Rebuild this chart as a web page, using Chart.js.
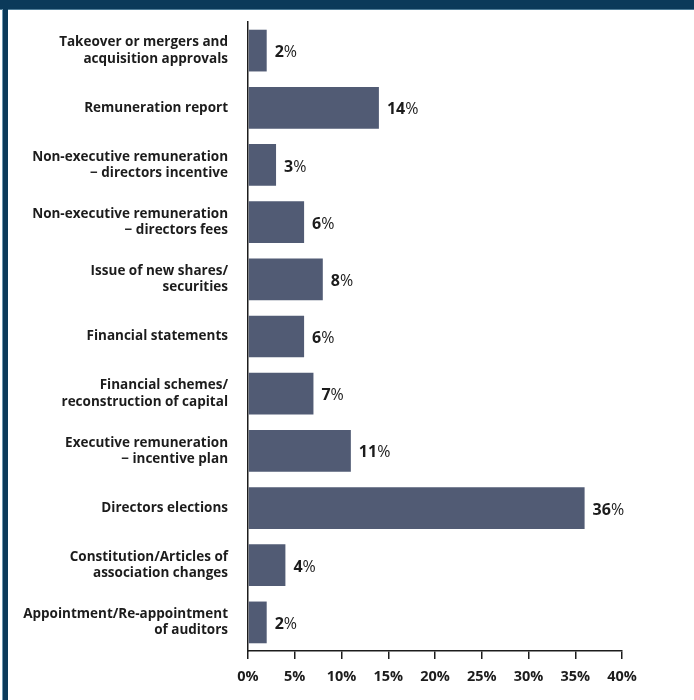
<!DOCTYPE html>
<html>
<head>
<meta charset="utf-8">
<script src="https://cdn.jsdelivr.net/npm/chart.js@4"></script>
<style>
  html, body { margin: 0; padding: 0; background: #fff; }
  #wrap { position: relative; width: 694px; height: 700px; overflow: hidden; }
  #topbar { position: absolute; left: 0; top: 0; width: 694px; height: 9px; background: #0b3a5a; border-bottom: 1px solid #4f7d98; }
  #sidebar { position: absolute; left: 2px; top: 9px; width: 5px; height: 691px; background: #0b3a5a; border-left: 1px solid #6f98b0; }
  #chart-box { position: absolute; left: 0; top: 0; width: 694px; height: 700px; }
</style>
</head>
<body>
<div id="wrap">
  <div id="chart-box"><canvas id="resolutions"></canvas></div>
  <div id="topbar"></div>
  <div id="sidebar"></div>
</div>
<script>
const categories = [
  ["Takeover or mergers and", "acquisition approvals"],
  "Remuneration report",
  ["Non-executive remuneration", "\u2212 directors incentive"],
  ["Non-executive remuneration", "\u2212 directors fees"],
  ["Issue of new shares/", "securities"],
  "Financial statements",
  ["Financial schemes/", "reconstruction of capital"],
  ["Executive remuneration", "\u2212 incentive plan"],
  "Directors elections",
  ["Constitution/Articles of", "association changes"],
  ["Appointment/Re-appointment", "of auditors"]
];
const shares = [2, 14, 3, 6, 8, 6, 7, 11, 36, 4, 2];
const tickValues = [0, 5, 10, 15, 20, 25, 30, 35, 40];

const FONT = "'Open Sans', 'DejaVu Sans', sans-serif";
const INK = "#1c1c1c";
const BAR = "#515b74";

// value labels: bold number followed by a lighter percent sign
const valueLabels = {
  id: "valueLabels",
  afterDatasetsDraw(chart){
    const ctx = chart.ctx;
    const meta = chart.getDatasetMeta(0);
    ctx.save();
    ctx.textBaseline = "middle";
    ctx.fillStyle = INK;
    meta.data.forEach((bar, i) => {
      const num = String(shares[i]);
      let x = bar.x + 8;
      ctx.font = "bold 16px " + FONT;
      ctx.fillText(num, x, bar.y + 2);
      x += ctx.measureText(num).width;
      ctx.font = "16px " + FONT;
      ctx.fillText("%", x, bar.y + 2);
    });
    ctx.restore();
  }
};

new Chart(document.getElementById("resolutions"), {
  type: "bar",
  data: {
    labels: categories,
    datasets: [{
      data: shares,
      backgroundColor: BAR,
      borderWidth: 0,
      barPercentage: 0.73,
      categoryPercentage: 1
    }]
  },
  options: {
    indexAxis: "y",
    responsive: true,
    maintainAspectRatio: false,
    animation: false,
    layout: { padding: { left: 0, top: 22, right: 72, bottom: 0 } },
    plugins: {
      legend: { display: false },
      tooltip: { enabled: false }
    },
    scales: {
      y: {
        grid: { display: false, drawTicks: false },
        border: { display: true, color: INK, width: 1.5 },
        ticks: {
          color: INK,
          padding: 20,
          font: { family: FONT, size: 13.5, weight: "bold", lineHeight: 1.2 }
        },
        afterFit(scale){
          scale.width = 248;
          scale.paddingTop = 0;
          scale.paddingBottom = 0;
        }
      },
      x: {
        min: 0,
        max: 40,
        afterBuildTicks(scale){ scale.ticks = tickValues.map(v => ({ value: v })); },
        grid: { drawOnChartArea: false, drawTicks: true, tickLength: 8, color: INK, lineWidth: 1.5 },
        border: { display: true, color: INK, width: 1.5 },
        ticks: {
          color: INK,
          padding: 9,
          maxRotation: 0,
          font: { family: FONT, size: 14.5, weight: "bold" },
          callback: v => v + "%"
        },
        afterFit(scale){ scale.height = 49; }
      }
    }
  },
  plugins: [valueLabels]
});
</script>
</body>
</html>
